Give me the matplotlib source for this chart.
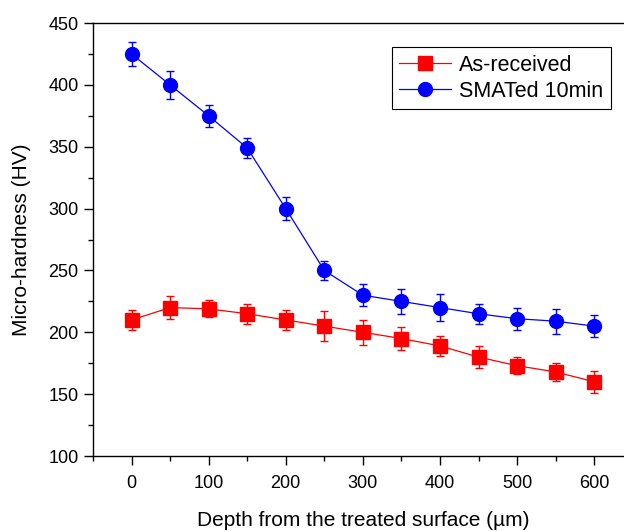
import matplotlib
matplotlib.use("Agg")
import matplotlib.pyplot as plt
from matplotlib.ticker import MultipleLocator

plt.rcParams["font.family"] = ["Liberation Sans", "DejaVu Sans"]

depth = [0, 50, 100, 150, 200, 250, 300, 350, 400, 450, 500, 550, 600]
hv_asrec = [210, 220, 219, 215, 210, 205, 200, 195, 189, 180, 173, 168, 160]
err_asrec = [8, 9, 7, 8, 8, 12, 10, 9, 8, 9, 7, 7, 9]
hv_smat = [425, 400, 375, 349, 300, 250, 230, 225, 220, 215, 211, 209, 205]
err_smat = [10, 11, 9, 8, 9, 8, 9, 10, 11, 8, 9, 10, 9]

fig = plt.figure(figsize=(6.24, 5.31), dpi=100)
ax = fig.add_axes([0.149, 0.1412, 0.865, 0.8154])

ax.errorbar(depth, hv_asrec, yerr=err_asrec, fmt="none", ecolor="red",
            elinewidth=1, capsize=3, capthick=1)
ax.errorbar(depth, hv_smat, yerr=err_smat, fmt="none", ecolor="blue",
            elinewidth=1, capsize=3, capthick=1)
ax.plot(depth, hv_asrec, "-s", color="red", lw=0.9, ms=9.5,
        label="As-received")
ax.plot(depth, hv_smat, "-o", color="blue", lw=0.9, ms=10,
        label="SMATed 10min")

ax.set_xlim(-50, 650)
ax.set_ylim(100, 450)
ax.xaxis.set_major_locator(MultipleLocator(100))
ax.xaxis.set_minor_locator(MultipleLocator(50))
ax.yaxis.set_major_locator(MultipleLocator(50))
ax.yaxis.set_minor_locator(MultipleLocator(25))
ax.tick_params(which="major", direction="out", length=6.5, width=1,
               labelsize=13)
ax.tick_params(which="minor", direction="out", length=3.6, width=1)
ax.tick_params(axis="x", pad=7)
ax.tick_params(axis="y", pad=4)
for sp in ax.spines.values():
    sp.set_linewidth(1)

ax.set_xlabel("Depth from the treated surface (\u00b5m)", fontsize=15,
              labelpad=14)
ax.set_ylabel("Micro-hardness (HV)", fontsize=15, labelpad=12)

leg = ax.legend(loc="upper right", bbox_to_anchor=(611 / 624, 484 / 531),
                bbox_transform=fig.transFigure, borderaxespad=0,
                fontsize=15.5, fancybox=False, edgecolor="black",
                framealpha=1, handlelength=2.4, handletextpad=0.4,
                labelspacing=0.25, borderpad=0.35, numpoints=1)
leg.get_frame().set_linewidth(0.8)

fig.savefig("out.png", dpi=100)
